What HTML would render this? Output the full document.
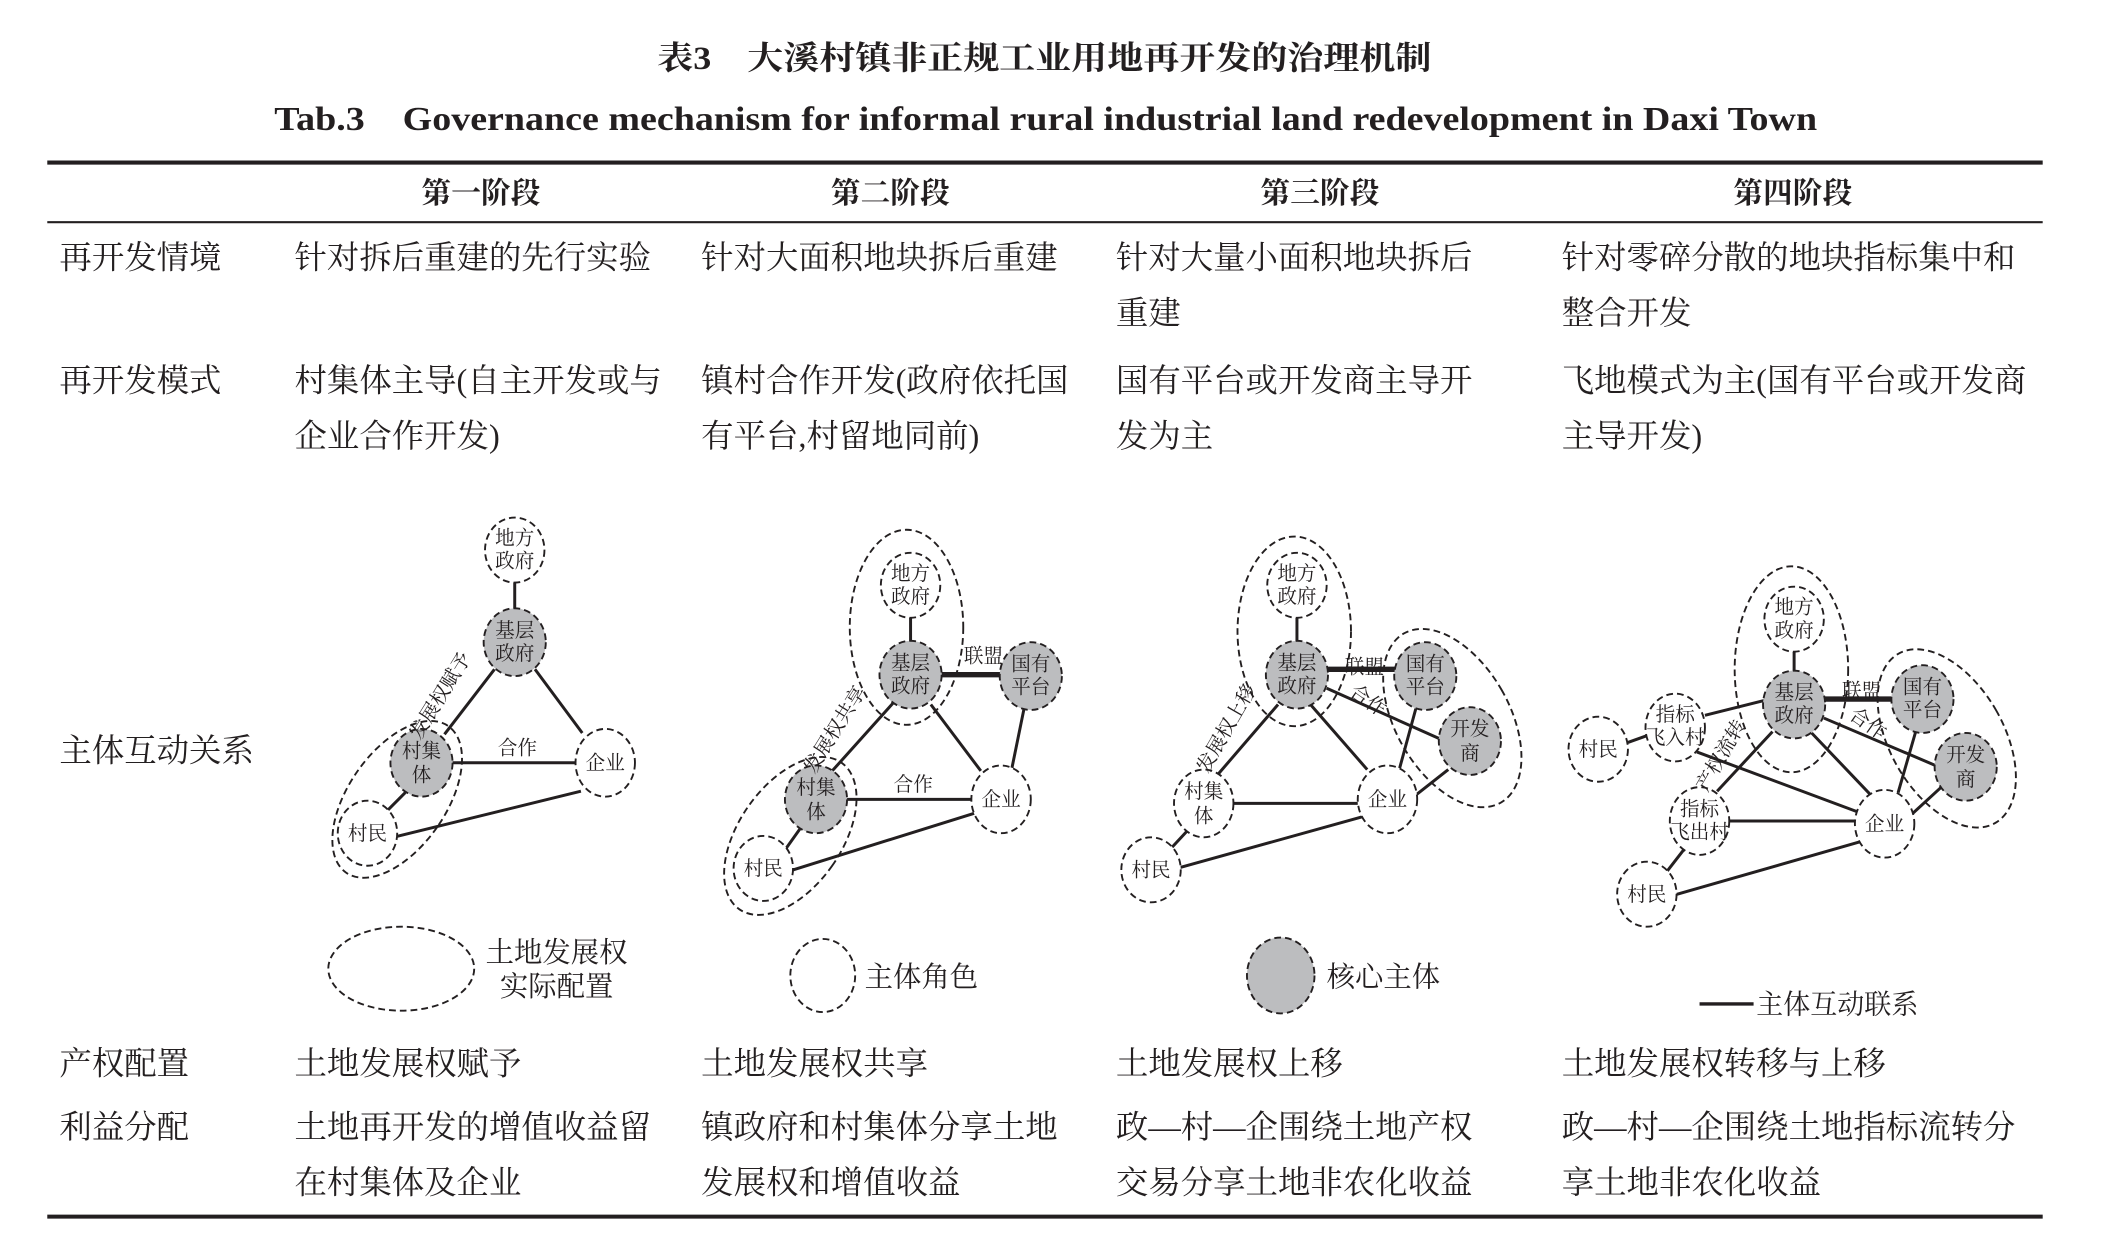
<!DOCTYPE html>
<html><head><meta charset="utf-8"><style>
html,body{margin:0;padding:0;background:#fff;}
svg{display:block;}
text{font-family:"Liberation Serif","Noto Serif CJK SC","Noto Sans CJK SC",serif;fill:#231f20;}
.t{font-size:24px;}
.h{font-size:22px;font-weight:bold;}
.n{font-size:14.5px;text-anchor:middle;}
.d{fill:none;stroke:#231f20;stroke-width:1.4;stroke-dasharray:5 3;}
.g{fill:#bcbdbf;stroke:#231f20;stroke-width:1.4;stroke-dasharray:5 3;}
.w{fill:#fff;stroke:#231f20;stroke-width:1.4;stroke-dasharray:5 3;}
.l{stroke:#231f20;stroke-width:2.2;fill:none;}
.b{stroke:#231f20;stroke-width:4;fill:none;}
</style></head><body>
<svg width="2117" height="1260" viewBox="0 0 1567 930" preserveAspectRatio="none" xmlns="http://www.w3.org/2000/svg">
<text x="773" y="51" text-anchor="middle" style="font-size:24px;font-weight:bold" textLength="573" lengthAdjust="spacingAndGlyphs">表3　大溪村镇非正规工业用地再开发的治理机制</text>
<text x="774" y="96" text-anchor="middle" style="font-size:25px;font-weight:bold" textLength="1142" lengthAdjust="spacingAndGlyphs">Tab.3　Governance mechanism for informal rural industrial land redevelopment in Daxi Town</text>
<line x1="35" y1="120" x2="1512" y2="120" stroke="#231f20" stroke-width="3"/>
<line x1="35" y1="164" x2="1512" y2="164" stroke="#231f20" stroke-width="1.5"/>
<line x1="35" y1="898" x2="1512" y2="898" stroke="#231f20" stroke-width="3"/>
<g text-anchor="middle">
<text x="356" y="150" class="h">第一阶段</text><text x="659" y="150" class="h">第二阶段</text><text x="977" y="150" class="h">第三阶段</text><text x="1327" y="150" class="h">第四阶段</text></g>
<g>
<text x="44" y="198" class="t">再开发情境</text>
<text x="218" y="198" class="t">针对拆后重建的先行实验</text>
<text x="519" y="198" class="t">针对大面积地块拆后重建</text>
<text x="826" y="198" class="t">针对大量小面积地块拆后</text>
<text x="826" y="239" class="t">重建</text>
<text x="1156" y="198" class="t">针对零碎分散的地块指标集中和</text>
<text x="1156" y="239" class="t">整合开发</text>
<text x="44" y="289" class="t">再开发模式</text>
<text x="218" y="289" class="t">村集体主导(自主开发或与</text>
<text x="218" y="330" class="t">企业合作开发)</text>
<text x="519" y="289" class="t">镇村合作开发(政府依托国</text>
<text x="519" y="330" class="t">有平台,村留地同前)</text>
<text x="826" y="289" class="t">国有平台或开发商主导开</text>
<text x="826" y="330" class="t">发为主</text>
<text x="1156" y="289" class="t">飞地模式为主(国有平台或开发商</text>
<text x="1156" y="330" class="t">主导开发)</text>
<text x="44" y="562" class="t">主体互动关系</text>
<text x="44" y="793" class="t">产权配置</text>
<text x="218" y="793" class="t">土地发展权赋予</text>
<text x="519" y="793" class="t">土地发展权共享</text>
<text x="826" y="793" class="t">土地发展权上移</text>
<text x="1156" y="793" class="t">土地发展权转移与上移</text>
<text x="44" y="840" class="t">利益分配</text>
<text x="218" y="840" class="t">土地再开发的增值收益留</text>
<text x="218" y="881" class="t">在村集体及企业</text>
<text x="519" y="840" class="t">镇政府和村集体分享土地</text>
<text x="519" y="881" class="t">发展权和增值收益</text>
<text x="826" y="840" class="t">政—村—企围绕土地产权</text>
<text x="826" y="881" class="t">交易分享土地非农化收益</text>
<text x="1156" y="840" class="t">政—村—企围绕土地指标流转分</text>
<text x="1156" y="881" class="t">享土地非农化收益</text>
</g>

<!-- Stage 1 -->
<g>
<ellipse class="d" cx="294" cy="590" rx="36" ry="66" transform="rotate(35 294 590)"/>
<line class="l" x1="381" y1="430" x2="381" y2="450"/>
<line class="l" x1="366" y1="494" x2="329" y2="542"/>
<line class="l" x1="396" y1="494" x2="431" y2="541"/>
<line class="l" x1="335" y1="563" x2="426" y2="563"/>
<line class="l" x1="300" y1="585" x2="287" y2="598"/>
<line class="l" x1="291" y1="618" x2="430" y2="584"/>
<ellipse class="w" cx="381" cy="406" rx="22" ry="24"/>
<ellipse class="g" cx="381" cy="474" rx="23" ry="25"/>
<ellipse class="g" cx="312" cy="563" rx="23" ry="25"/>
<ellipse class="w" cx="448" cy="563" rx="22" ry="25"/>
<ellipse class="w" cx="272" cy="615" rx="22" ry="24"/>
<text class="n" x="381" y="402">地方</text><text class="n" x="381" y="419">政府</text>
<text class="n" x="381" y="470">基层</text><text class="n" x="381" y="487">政府</text>
<text class="n" x="312" y="559">村集</text><text class="n" x="312" y="577">体</text>
<text class="n" x="448" y="568">企业</text>
<text class="n" x="272" y="620">村民</text>
<text class="n" x="383" y="557">合作</text>
<text class="n" x="330" y="516" transform="rotate(-58 330 516)">发展权赋予</text>
</g>

<!-- Stage 2 -->
<g>
<ellipse class="d" cx="671" cy="463" rx="42" ry="72"/>
<ellipse class="d" cx="585" cy="617" rx="38" ry="66" transform="rotate(35 585 617)"/>
<line class="l" x1="674" y1="456" x2="674" y2="476"/>
<line class="b" x1="697" y1="498" x2="741" y2="498"/>
<line class="l" x1="661" y1="519" x2="616" y2="569"/>
<line class="l" x1="689" y1="520" x2="726" y2="569"/>
<line class="l" x1="758" y1="523" x2="749" y2="567"/>
<line class="l" x1="627" y1="590" x2="719" y2="590"/>
<line class="l" x1="592" y1="612" x2="582" y2="626"/>
<line class="l" x1="584" y1="643" x2="722" y2="600"/>
<ellipse class="w" cx="674" cy="432" rx="22" ry="24"/>
<ellipse class="g" cx="674" cy="498" rx="23" ry="25"/>
<ellipse class="g" cx="763" cy="499" rx="23" ry="25"/>
<ellipse class="g" cx="604" cy="590" rx="23" ry="25"/>
<ellipse class="w" cx="741" cy="590" rx="22" ry="25"/>
<ellipse class="w" cx="565" cy="641" rx="22" ry="24"/>
<text class="n" x="674" y="428">地方</text><text class="n" x="674" y="445">政府</text>
<text class="n" x="674" y="494">基层</text><text class="n" x="674" y="511">政府</text>
<text class="n" x="763" y="495">国有</text><text class="n" x="763" y="512">平台</text>
<text class="n" x="604" y="586">村集</text><text class="n" x="604" y="604">体</text>
<text class="n" x="741" y="595">企业</text>
<text class="n" x="565" y="646">村民</text>
<text class="n" x="676" y="584">合作</text>
<text class="n" x="728" y="489">联盟</text>
<text class="n" x="622" y="541" transform="rotate(-58 622 541)">发展权共享</text>
</g>

<!-- Stage 3 -->
<g>
<ellipse class="d" cx="958" cy="466" rx="42" ry="70"/>
<ellipse class="d" cx="1075" cy="530" rx="42" ry="72" transform="rotate(-30 1075 530)"/>
<line class="l" x1="960" y1="456" x2="960" y2="476"/>
<line class="b" x1="983" y1="494" x2="1033" y2="494"/>
<line class="l" x1="946" y1="520" x2="902" y2="571"/>
<line class="l" x1="970" y1="520" x2="1012" y2="568"/>
<line class="l" x1="1048" y1="523" x2="1036" y2="567"/>
<line class="l" x1="982" y1="508" x2="1065" y2="545"/>
<line class="l" x1="1072" y1="568" x2="1044" y2="590"/>
<line class="l" x1="905" y1="593" x2="1005" y2="593"/>
<line class="l" x1="880" y1="612" x2="866" y2="627"/>
<line class="l" x1="871" y1="641" x2="1008" y2="603"/>
<ellipse class="w" cx="960" cy="432" rx="22" ry="24"/>
<ellipse class="g" cx="960" cy="498" rx="23" ry="25"/>
<ellipse class="g" cx="1055" cy="499" rx="23" ry="25"/>
<ellipse class="g" cx="1088" cy="547" rx="23" ry="25"/>
<ellipse class="w" cx="891" cy="593" rx="22" ry="25"/>
<ellipse class="w" cx="1027" cy="590" rx="22" ry="25"/>
<ellipse class="w" cx="852" cy="642" rx="22" ry="24"/>
<text class="n" x="960" y="428">地方</text><text class="n" x="960" y="445">政府</text>
<text class="n" x="960" y="494">基层</text><text class="n" x="960" y="511">政府</text>
<text class="n" x="1055" y="495">国有</text><text class="n" x="1055" y="512">平台</text>
<text class="n" x="1088" y="543">开发</text><text class="n" x="1088" y="561">商</text>
<text class="n" x="891" y="589">村集</text><text class="n" x="891" y="607">体</text>
<text class="n" x="1027" y="595">企业</text>
<text class="n" x="852" y="647">村民</text>
<text class="n" x="1010" y="497">联盟</text>
<text class="n" x="1010" y="521" transform="rotate(35 1010 521)">合作</text>
<text class="n" x="912" y="540" transform="rotate(-60 912 540)">发展权上移</text>
</g>

<!-- Stage 4 -->
<g>
<ellipse class="d" cx="1326" cy="494" rx="42" ry="76"/>
<ellipse class="d" cx="1441" cy="545" rx="42" ry="72" transform="rotate(-30 1441 545)"/>
<line class="l" x1="1328" y1="481" x2="1328" y2="498"/>
<line class="b" x1="1350" y1="516" x2="1400" y2="516"/>
<line class="l" x1="1306" y1="517" x2="1262" y2="528"/>
<line class="l" x1="1205" y1="548" x2="1219" y2="543"/>
<line class="l" x1="1256" y1="555" x2="1377" y2="600"/>
<line class="l" x1="1312" y1="540" x2="1271" y2="584"/>
<line class="l" x1="1341" y1="541" x2="1384" y2="586"/>
<line class="l" x1="1418" y1="540" x2="1405" y2="585"/>
<line class="l" x1="1350" y1="530" x2="1435" y2="566"/>
<line class="l" x1="1438" y1="580" x2="1414" y2="602"/>
<line class="l" x1="1279" y1="606" x2="1373" y2="606"/>
<line class="l" x1="1248" y1="625" x2="1234" y2="643"/>
<line class="l" x1="1238" y1="661" x2="1378" y2="621"/>
<ellipse class="w" cx="1328" cy="457" rx="22" ry="24"/>
<ellipse class="g" cx="1328" cy="520" rx="23" ry="25"/>
<ellipse class="g" cx="1423" cy="516" rx="23" ry="25"/>
<ellipse class="g" cx="1455" cy="566" rx="23" ry="25"/>
<ellipse class="w" cx="1240" cy="537" rx="22" ry="25"/>
<ellipse class="w" cx="1183" cy="553" rx="22" ry="24"/>
<ellipse class="w" cx="1258" cy="606" rx="22" ry="25"/>
<ellipse class="w" cx="1395" cy="608" rx="22" ry="25"/>
<ellipse class="w" cx="1219" cy="660" rx="22" ry="24"/>
<text class="n" x="1328" y="453">地方</text><text class="n" x="1328" y="470">政府</text>
<text class="n" x="1328" y="516">基层</text><text class="n" x="1328" y="533">政府</text>
<text class="n" x="1423" y="512">国有</text><text class="n" x="1423" y="529">平台</text>
<text class="n" x="1455" y="562">开发</text><text class="n" x="1455" y="580">商</text>
<text class="n" x="1240" y="532">指标</text><text class="n" x="1240" y="549">飞入村</text>
<text class="n" x="1183" y="558">村民</text>
<text class="n" x="1258" y="602">指标</text><text class="n" x="1258" y="619">飞出村</text>
<text class="n" x="1395" y="613">企业</text>
<text class="n" x="1219" y="665">村民</text>
<text class="n" x="1378" y="515">联盟</text>
<text class="n" x="1380" y="538" transform="rotate(35 1380 538)">合作</text>
<text class="n" x="1278" y="560" transform="rotate(-60 1278 560)">产权流转</text>
</g>

<!-- Legend -->
<ellipse class="d" cx="297" cy="715" rx="54" ry="31"/>
<text x="412" y="710" text-anchor="middle" style="font-size:21px">土地发展权</text>
<text x="412" y="735" text-anchor="middle" style="font-size:21px">实际配置</text>
<ellipse class="d" cx="609" cy="720" rx="24" ry="27"/>
<text x="640" y="728" style="font-size:21px">主体角色</text>
<ellipse class="g" cx="948" cy="720" rx="25" ry="28"/>
<text x="982" y="728" style="font-size:21px">核心主体</text>
<line x1="1258" y1="741" x2="1298" y2="741" stroke="#231f20" stroke-width="2.5"/>
<text x="1300" y="748" style="font-size:20px">主体互动联系</text>
</svg>
</body></html>
